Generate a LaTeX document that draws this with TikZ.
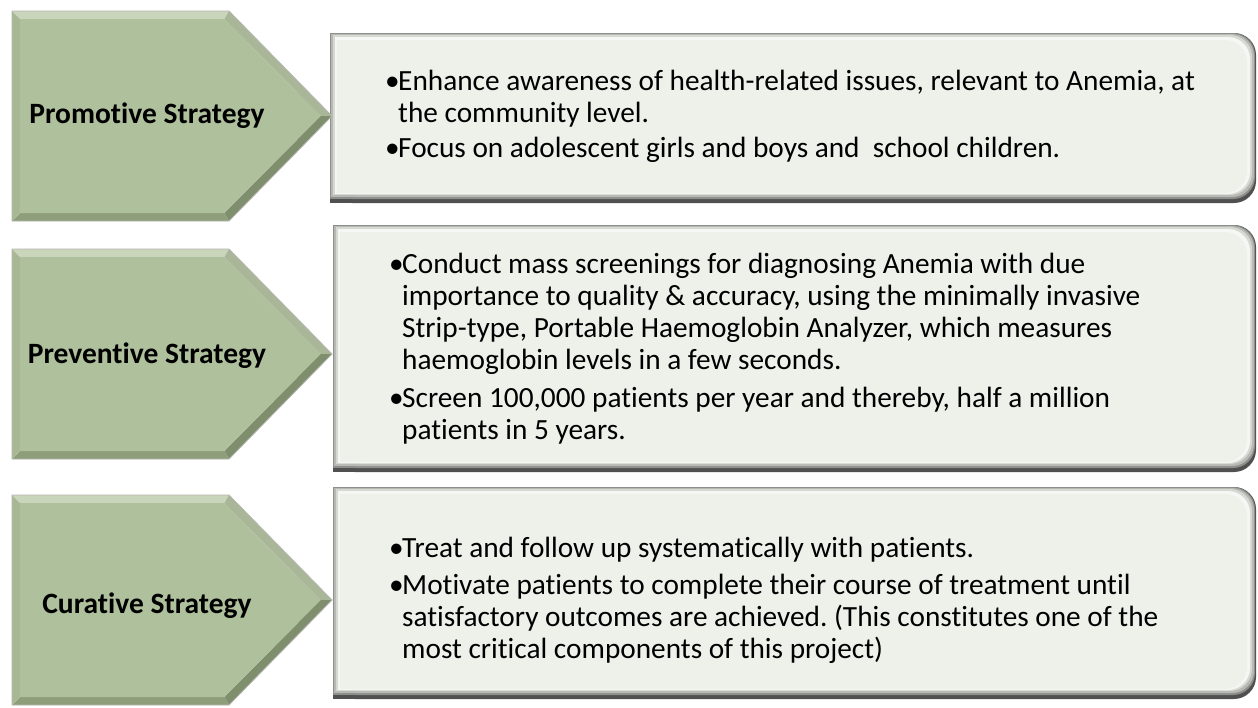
\documentclass[tikz,border=0pt]{standalone}
\usepackage{fontspec}
\setmainfont[Ligatures=NoCommon]{Carlito}
\tikzset{
  arrtop/.style={fill=arrTop},
  arrdiagup/.style={fill=arrDiagUp},
  arrdiagdn/.style={fill=arrDiagDn},
  arrbot/.style={fill=arrBot},
  arrleft/.style={fill=arrLeft},
  arrface/.style={fill=arrFace},
  arredge/.style={draw=arrEdge, line width=0.8pt, line join=miter},
  stratlabel/.style={font=\fontsize{29.5}{32}\selectfont\bfseries, inner sep=0pt, anchor=base},
  bullettext/.style={font=\fontsize{29.3}{32}\selectfont, inner sep=0pt, anchor=base west},
}
\definecolor{arrTop}{HTML}{CAD6BC}
\definecolor{arrDiagUp}{HTML}{A9B698}
\definecolor{arrDiagDn}{HTML}{7F8E6D}
\definecolor{arrBot}{HTML}{8E9E7B}
\definecolor{arrLeft}{HTML}{A8B895}
\definecolor{arrFace}{HTML}{AFC09C}
\definecolor{arrEdge}{HTML}{B4B6B0}
\definecolor{boxA}{HTML}{505050}
\definecolor{boxB}{HTML}{8E8F8B}
\definecolor{boxC}{HTML}{B7B9B4}
\definecolor{boxD}{HTML}{D6D8D2}
\definecolor{boxE}{HTML}{F6F7F4}
\definecolor{boxFace}{HTML}{EEF1EA}
\newcommand\stratarrow[1]{%
\begin{scope}[shift={(0,#1)}]
 \fill[arrtop] (12,0) -- (229,0) -- (224.5,8) -- (20,8) -- cycle;
 \fill[arrdiagup] (229,0) -- (332,105) -- (320.5,105) -- (224.5,8) -- cycle;
 \fill[arrdiagdn] (332,105) -- (229,210) -- (224.5,202) -- (320.5,105) -- cycle;
 \fill[arrbot] (229,210) -- (12,210) -- (20,202) -- (224.5,202) -- cycle;
 \fill[arrleft] (12,210) -- (12,0) -- (20,8) -- (20,202) -- cycle;
 \fill[arrface] (20,8) -- (224.5,8) -- (320.5,105) -- (224.5,202) -- (20,202) -- cycle;
 \draw[arredge] (12,0) -- (229,0) -- (332,105) -- (229,210) -- (12,210) -- cycle;
\end{scope}}
\newcommand\boxlayer[9]{%
 \fill[#5,rounded corners=22pt] (#1+#6,#2+#7) rectangle (#3-#8,#4-#9);
 \fill[#5] (#1+#6,#2+#7) rectangle (#1+40,#4-#9);}
\newcommand\stratbox[4]{%
 \boxlayer{#1}{#2}{#3}{#4}{boxA}{0}{0}{0}{0}
 \boxlayer{#1}{#2}{#3}{#4}{boxB}{0}{0}{1}{4}
 \boxlayer{#1}{#2}{#3}{#4}{boxC}{1}{1}{2}{6}
 \boxlayer{#1}{#2}{#3}{#4}{boxD}{3}{2}{4}{8}
 \boxlayer{#1}{#2}{#3}{#4}{boxE}{5}{4}{6}{9}
 \boxlayer{#1}{#2}{#3}{#4}{boxFace}{7}{7}{9}{10}}
\newcommand\bul{\makebox[13pt][l]{•}}
\newcommand\para[1]{\parbox[t]{880pt}{\frenchspacing\raggedright\hangindent=13pt\hangafter=1 #1}}
\begin{document}
\begin{tikzpicture}[x=1pt,y=-1pt]
\useasboundingbox (0,0) rectangle (1258,707);
\fill[white] (0,0) rectangle (1258,707);
% boxes
\stratbox{330}{33}{1256}{203}
\stratbox{333}{225}{1256}{472}
\stratbox{333}{487}{1256}{699}
% arrows
\stratarrow{11}
\stratarrow{249}
\stratarrow{495}
% labels
\node[stratlabel] (promotive) at (147,123) {Promotive Strategy};
\node[stratlabel] (preventive) at (147,363) {Preventive Strategy};
\node[stratlabel] (curative) at (147,613) {Curative Strategy};
% texts
\node[bullettext] (p1) at (385,90) {\para{\bul Enhance awareness of health-related issues, relevant to Anemia, at\newline the community level.}};
\node[bullettext] (p2) at (385,157) {\para{\bul Focus on adolescent girls and boys and\ \ school children.}};
\node[bullettext] (v1) at (389,273) {\para{\bul Conduct mass screenings for diagnosing Anemia with due\newline importance to quality \& accuracy, using the minimally invasive\newline Strip-type, Portable Haemoglobin Analyzer, which measures\newline haemoglobin levels in a few seconds.}};
\node[bullettext] (v2) at (389,407) {\para{\bul Screen 100,000 patients per year and thereby, half a million\newline patients in 5 years.}};
\node[bullettext] (c1) at (389,557) {\para{\bul Treat and follow up systematically with patients.}};
\node[bullettext] (c2) at (389,594) {\para{\bul Motivate patients to complete their course of treatment until\newline satisfactory outcomes are achieved. (This constitutes one of the\newline most critical components of this project)}};
\end{tikzpicture}
\end{document}
